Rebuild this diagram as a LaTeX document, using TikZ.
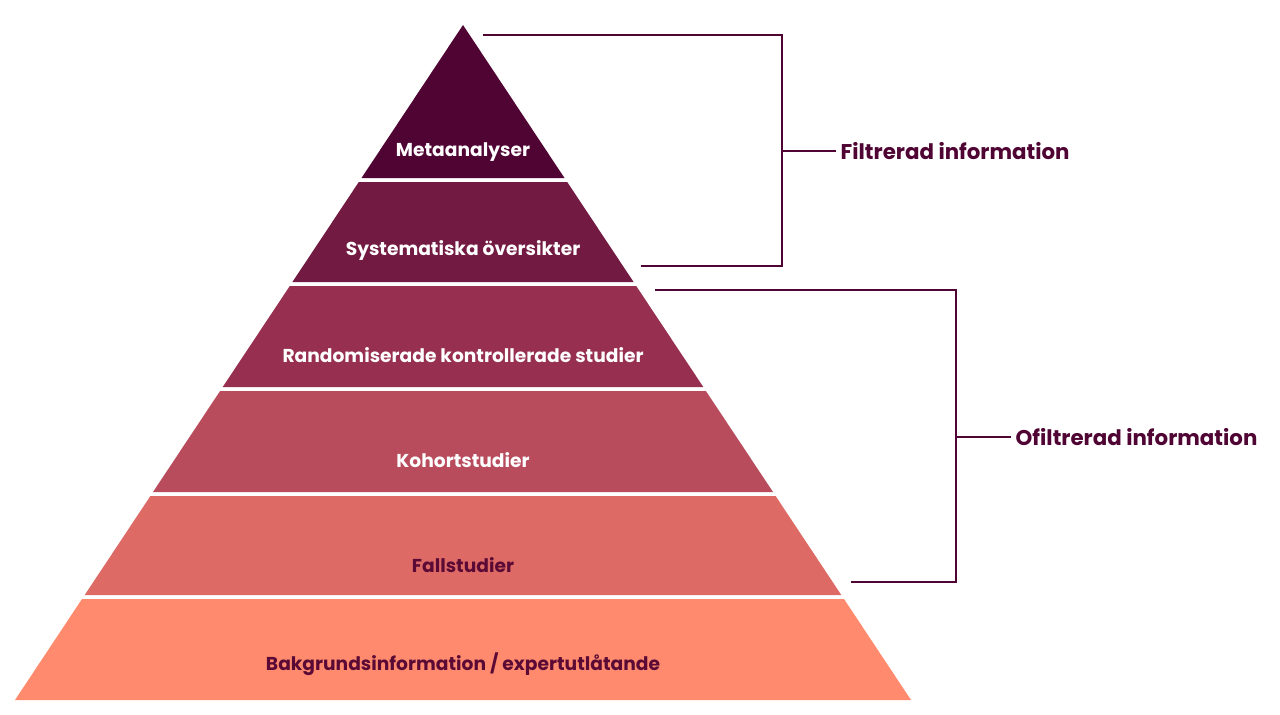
\documentclass[tikz,border=0pt]{standalone}
\usepackage{fontspec}
\setmainfont{Poppins}
\begin{document}
\begin{tikzpicture}[x=0.75pt,y=-0.75pt,
  lbl/.style={font=\fontsize{14}{16}\selectfont\bfseries},
  side/.style={font=\fontsize{16}{18}\selectfont\bfseries,text=dp,anchor=west},
  br/.style={draw=dp,line width=1.5pt}]
\definecolor{dp}{HTML}{4F0433}
\definecolor{cA}{HTML}{4F0433}
\definecolor{cB}{HTML}{731A42}
\definecolor{cC}{HTML}{962F50}
\definecolor{cD}{HTML}{B84C5C}
\definecolor{cE}{HTML}{DE6A66}
\definecolor{cF}{HTML}{FF8A6E}
\definecolor{tx}{HTML}{5A0A35}
\useasboundingbox (0,0) rectangle (1280,714);
\fill[white] (0,0) rectangle (1280,714);
\fill[cA] (463,25) -- (564.5,178) -- (361.5,178) -- cycle;
\fill[cB] (358.8,182) -- (567.2,182) -- (633.6,282) -- (292.4,282) -- cycle;
\fill[cC] (289.8,286) -- (636.2,286) -- (703.3,387) -- (222.7,387) -- cycle;
\fill[cD] (220.1,391) -- (705.9,391) -- (773,492) -- (153,492) -- cycle;
\fill[cE] (150.4,496) -- (775.6,496) -- (841.3,595) -- (84.7,595) -- cycle;
\fill[cF] (82,599) -- (844,599) -- (911,700) -- (15,700) -- cycle;
\node[lbl,text=white] (t1) at (463,152) {Metaanalyser};
\node[lbl,text=white] (t2) at (463,250) {Systematiska översikter};
\node[lbl,text=white] (t3) at (463,355) {Randomiserade kontrollerade studier};
\node[lbl,text=white] (t4) at (463,460) {Kohortstudier};
\node[lbl,text=tx] (t5) at (463,565) {Fallstudier};
\node[lbl,text=tx] (t6) at (463,664) {Bakgrundsinformation / expertutlåtande};
\node[side] (s1) at (836,151) {Filtrerad information};
\node[side] (s2) at (1011,437) {Ofiltrerad information};
\coordinate (a1) at (483,35); \coordinate (a2) at (641,266);
\coordinate (b1) at (655,290); \coordinate (b2) at (851,582);
\draw[br] (a1) -- (782,35) -- (782,266) -- (a2);
\draw[br] (782,151) -- (s1.west);
\draw[br] (b1) -- (956,290) -- (956,582) -- (b2);
\draw[br] (956,437) -- (s2.west);
\end{tikzpicture}
\end{document}
